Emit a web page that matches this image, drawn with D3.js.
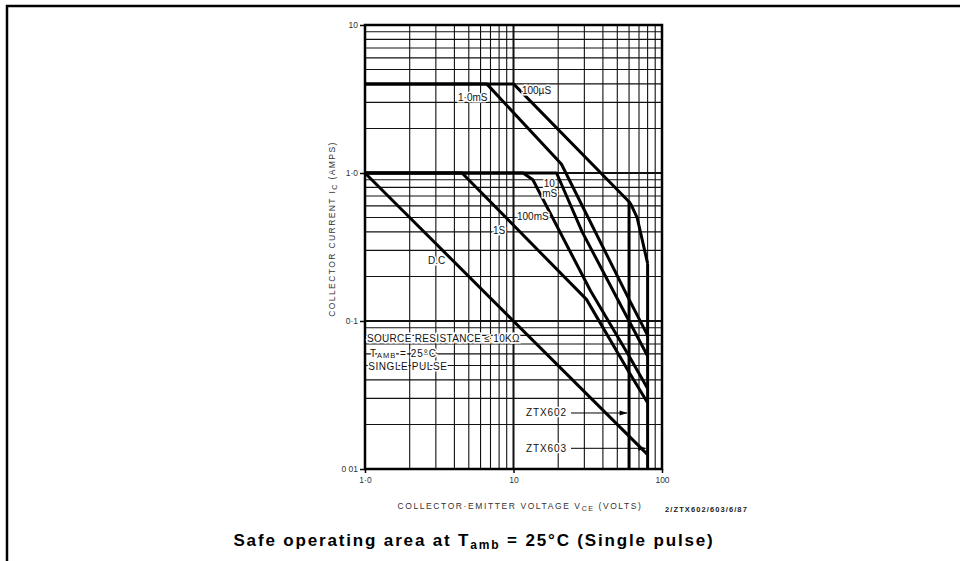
<!DOCTYPE html>
<html>
<head>
<meta charset="utf-8">
<script src="https://cdn.jsdelivr.net/npm/d3@7"></script>
<style>
  body { margin: 0; background: #fff; }
  svg { display: block; font-family: "Liberation Sans", Arial, sans-serif; }
</style>
</head>
<body>
<svg id="chart" width="960" height="561"></svg>
<script>
// Axis ticks
const xTicks = [1, 10, 100];
const xTickLabels = ["1·0", "10", "100"];
const yTicks = [0.01, 0.1, 1, 10];
const yTickLabels = ["0 01", "0·1", "1·0", "10"];

// SOA boundaries, points are [VCE (V), IC (A)]
const pulse100us = [[1, 4], [10, 4], [60, 0.64], [62, 0.61], [68, 0.5], [80, 0.245]];
const pulse1ms   = [[1, 4], [6.6, 4], [21, 1.15], [60, 0.14], [80, 0.08]];
const pulse10ms  = [[1, 1], [19.5, 1], [29, 0.4], [60, 0.1], [80, 0.058]];
const pulse100ms = [[1, 1], [11.6, 1], [13.5, 0.9], [33, 0.16], [60, 0.058], [80, 0.035]];
const pulse1s    = [[1, 1], [4.5, 1], [31, 0.14], [60, 0.045], [80, 0.028]];
const dcLimit    = [[1, 1], [80, 0.0125]];
// VCEO limits of the two devices
const ztx602 = [[60, 0.64], [60, 0.01]];
const ztx603 = [[80, 0.245], [80, 0.01]];

// Curve labels, anchored at [VCE, IC]
const curveLabels = [
  { text: "100µS", v: 11.4, i: 3.42 },
  { text: "1·0mS", v: 4.23, i: 3.06 },
  { text: "10", v: 16.0, i: 0.804 },
  { text: "mS", v: 15.6, i: 0.689 },
  { text: "100mS", v: 10.56, i: 0.481 },
  { text: "1S", v: 7.28, i: 0.387 },
  { text: "D.C", v: 2.66, i: 0.243 }
];

// Device leaders: label, leader height (A), target VCE
const devices = [
  { name: "ZTX602", i: 0.0239, v: 60 },
  { name: "ZTX603", i: 0.0138, v: 80 }
];

const svg = d3.select("#chart");

// stretch a text to a given width with letter spacing
function fitWidth(sel, target) {
  const node = sel.node();
  const n = node.textContent.length;
  const w = node.getComputedTextLength();
  sel.attr("letter-spacing", ((target - w) / n).toFixed(2));
}

// Page frame (open at right and bottom)
svg.append("path")
  .attr("d", "M7,561 V6 H960")
  .attr("fill", "none")
  .attr("stroke", "#000")
  .attr("stroke-width", 2.5);

const x = d3.scaleLog().domain([1, 100]).range([365, 662]);
const y = d3.scaleLog().domain([0.01, 10]).range([469, 25]);

// Log grid
const gridX = [], gridY = [];
[1, 10].forEach(d => { for (let k = 1; k < 10; k++) gridX.push(d * k); });
gridX.push(100);
[0.01, 0.1, 1].forEach(d => { for (let k = 1; k < 10; k++) gridY.push(+(d * k).toPrecision(3)); });
gridY.push(10);
const isDecade = v => Math.abs(Math.log10(v) - Math.round(Math.log10(v))) < 1e-6;

const grid = svg.append("g").attr("stroke", "#111");
grid.selectAll("line.gx").data(gridX).enter().append("line")
  .attr("x1", d => x(d)).attr("x2", d => x(d))
  .attr("y1", y(10)).attr("y2", y(0.01))
  .attr("stroke-width", d => isDecade(d) ? 2 : 1.1);
grid.selectAll("line.gy").data(gridY).enter().append("line")
  .attr("y1", d => y(d)).attr("y2", d => y(d))
  .attr("x1", x(1)).attr("x2", x(100))
  .attr("stroke-width", d => isDecade(d) ? 2 : 1.1);

svg.append("rect")
  .attr("x", x(1)).attr("y", y(10))
  .attr("width", x(100) - x(1)).attr("height", y(0.01) - y(10))
  .attr("fill", "none").attr("stroke", "#000").attr("stroke-width", 2.5);

// Axes
const tickFont = g => g.selectAll("text")
  .attr("font-size", 8.5).attr("fill", "#333")
  .attr("font-family", "\"Liberation Sans\", Arial, sans-serif");

svg.append("g")
  .attr("transform", `translate(${x(1)},0)`)
  .call(d3.axisLeft(y).tickValues(yTicks).tickSize(5).tickPadding(2)
    .tickFormat((d, i) => yTickLabels[i]))
  .call(g => g.select(".domain").remove())
  .call(g => g.selectAll("line").attr("stroke-width", 1.5))
  .call(tickFont);

svg.append("g")
  .attr("transform", `translate(0,${y(0.01)})`)
  .call(d3.axisBottom(x).tickValues(xTicks).tickSize(4).tickPadding(4)
    .tickFormat((d, i) => xTickLabels[i]))
  .call(g => g.select(".domain").remove())
  .call(g => g.selectAll("line").attr("stroke-width", 1.5))
  .call(tickFont);

// Curves
const line = d3.line().x(d => x(d[0])).y(d => y(d[1]));
const curves = svg.append("g")
  .attr("fill", "none").attr("stroke", "#000")
  .attr("stroke-width", 3).attr("stroke-linejoin", "round");
[pulse100us, pulse1ms, pulse10ms, pulse100ms, pulse1s, dcLimit, ztx602, ztx603]
  .forEach(c => curves.append("path").attr("d", line(c)));

// Curve labels with white knockout
const labelG = svg.append("g")
  .attr("font-size", 10).attr("fill", "#111")
  .attr("stroke", "#fff").attr("stroke-width", 3).attr("paint-order", "stroke");
labelG.selectAll("text").data(curveLabels).enter().append("text")
  .attr("x", d => x(d.v)).attr("y", d => y(d.i))
  .text(d => d.text);

// Conditions block
const cond = labelG.append("text").attr("x", x(1.03)).attr("y", y(0.0721))
  .attr("font-size", 10)
  .text("SOURCE RESISTANCE ≤ 10KΩ");
fitWidth(cond, 153);
const tamb = labelG.append("text").attr("x", x(1.08)).attr("y", y(0.0571))
  .attr("font-size", 10);
tamb.append("tspan").text("T");
tamb.append("tspan").attr("font-size", 7.5).attr("dy", 1).text("AMB");
tamb.append("tspan").attr("dy", -1).text(" = 25°C");
fitWidth(tamb, 67);
const single = labelG.append("text").attr("x", x(1.05)).attr("y", y(0.0467))
  .attr("font-size", 10).text("SINGLE  PULSE");
fitWidth(single, 80);

// Device leaders
devices.forEach(d => {
  const yy = y(d.i);
  const t = labelG.append("text")
    .attr("x", 567).attr("y", yy + 3.5)
    .attr("text-anchor", "end")
    .text(d.name);
  fitWidth(t, 41);
  svg.append("line")
    .attr("x1", 571).attr("x2", x(d.v) - 2)
    .attr("y1", yy).attr("y2", yy)
    .attr("stroke", "#000").attr("stroke-width", 1);
  svg.append("path")
    .attr("d", `M${x(d.v) - 1.5},${yy} l-8,-2.5 v5 z`)
    .attr("fill", "#000");
});

// Axis titles
const yTitle = svg.append("text")
  .attr("transform", `translate(335,229) rotate(-90)`)
  .attr("text-anchor", "middle")
  .attr("font-size", 8.5).attr("fill", "#333");
yTitle.append("tspan").text("COLLECTOR CURRENT  I");
yTitle.append("tspan").attr("font-size", 7).attr("dy", 2).text("C");
yTitle.append("tspan").attr("dy", -2).text(" (AMPS)");
fitWidth(yTitle, 177);

const xTitle = svg.append("text")
  .attr("x", 520).attr("y", 509)
  .attr("text-anchor", "middle")
  .attr("font-size", 8.5).attr("fill", "#333");
xTitle.append("tspan").text("COLLECTOR·EMITTER VOLTAGE V");
xTitle.append("tspan").attr("font-size", 7).attr("dy", 2).text("CE");
xTitle.append("tspan").attr("dy", -2).text(" (VOLTS)");
fitWidth(xTitle, 245);

const code = svg.append("text")
  .attr("x", 665).attr("y", 512)
  .attr("font-size", 7.5).attr("font-weight", "bold").attr("fill", "#222")
  .text("2/ZTX602/603/6/87");
fitWidth(code, 83);

// Caption
const title = svg.append("text")
  .attr("x", 474).attr("y", 546)
  .attr("text-anchor", "middle")
  .attr("font-size", 17).attr("font-weight", "bold").attr("fill", "#000");
title.append("tspan").text("Safe operating area at T");
title.append("tspan").attr("font-size", 12).attr("dy", 3).text("amb");
title.append("tspan").attr("dy", -3).text(" = 25°C  (Single pulse)");
fitWidth(title, 483);
</script>
</body>
</html>
